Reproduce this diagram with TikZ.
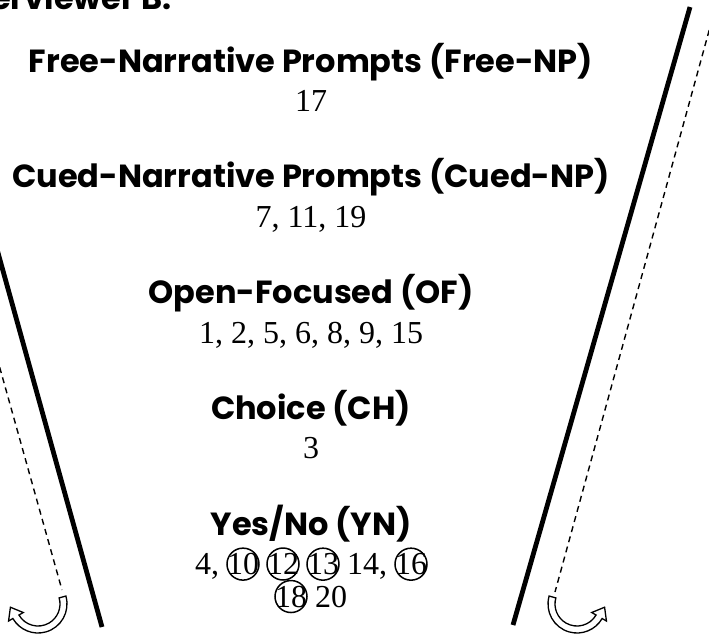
\documentclass[tikz,border=0pt]{standalone}
\usepackage{fontspec}
\setmainfont{Liberation Serif}
\newfontfamily\headfont{Poppins}
\usetikzlibrary{positioning,calc}

% circled question number, ring does not take space
\newcommand{\ringed}[1]{\tikz[baseline=(r.base)]{\node[inner sep=0pt] (r) {#1};\draw[overlay,line width=1.5pt] (r.center) circle[radius=16pt];}}

\begin{document}
\begin{tikzpicture}[x=1pt,y=1pt,node distance=10pt,
  cat/.style={font=\headfont\bfseries\fontsize{32}{38}\selectfont,inner sep=0pt,text height=25pt,text depth=8pt},
  nums/.style={font=\fontsize{32}{33}\selectfont,inner sep=0pt,text height=21pt,text depth=6pt},
  wall/.style={line width=4.8pt},
  guide/.style={line width=1.4pt,dash pattern=on 6pt off 4.5pt},
  turn/.style={draw,line width=1.3pt,fill=white}]

  \useasboundingbox (0,0) rectangle (709,-638);
  \clip (0,0) rectangle (709,-638);

  \node[cat,anchor=base east] (who) at (172,-9) {Interviewer B:};

  \node[cat,anchor=base] (fnp) at (311,-72) {Free-Narrative Prompts (Free-NP)};
  \node[nums,below=of fnp] (fnpq) {17};
  \node[cat,below=45pt of fnpq] (cnp) {Cued-Narrative Prompts (Cued-NP)};
  \node[nums,below=of cnp] (cnpq) {7, 11, 19};
  \node[cat,below=45pt of cnpq] (of) {Open-Focused (OF)};
  \node[nums,below=of of] (ofq) {1, 2, 5, 6, 8, 9, 15};
  \node[cat,below=45pt of ofq] (ch) {Choice (CH)};
  \node[nums,below=of ch] (chq) {3};
  \node[cat,below=45pt of chq] (yn) {Yes/No (YN)};
  \node[nums,below=of yn] (ynq) {4, \ringed{10} \ringed{12} \ringed{13} 14, \ringed{16}};
  \node[nums,below=5pt of ynq] (ynq2) {\ringed{18} 20};

  % funnel walls
  \coordinate (lwtop) at (-5,-242);
  \coordinate (lwbot) at (102,-627);
  \coordinate (rwtop) at (690,-7);
  \coordinate (rwbot) at (513,-625);
  \draw[wall] (lwtop) -- (lwbot);
  \draw[wall] (rwtop) -- (rwbot);

  % dashed return paths
  \coordinate (lgtop) at (-6,-347);
  \coordinate (lgbot) at (62,-590);
  \coordinate (rgtop) at (712,-20);
  \coordinate (rgbot) at (555,-592);
  \draw[guide] (lgtop) -- (lgbot);
  \draw[guide] (rgtop) -- (rgbot);

  % hollow turn arrows
  \coordinate (cl) at (38,-604);
  \coordinate (cr) at (577,-604);
  \draw[turn] ([shift={(cl)}]16:29) arc[start angle=16,end angle=-150,radius=29]
    -- ([shift={(cl)}]-150:34) -- ($(cl)+(-150:25.5)+(120:11)$)
    -- ([shift={(cl)}]-150:17) -- ([shift={(cl)}]-150:22)
    arc[start angle=-150,end angle=16,radius=22] -- cycle;
  \draw[turn] ([shift={(cr)}]164:29) arc[start angle=164,end angle=330,radius=29]
    -- ([shift={(cr)}]330:34) -- ($(cr)+(330:25.5)+(60:11)$)
    -- ([shift={(cr)}]330:17) -- ([shift={(cr)}]330:22)
    arc[start angle=330,end angle=164,radius=22] -- cycle;
\end{tikzpicture}
\end{document}
